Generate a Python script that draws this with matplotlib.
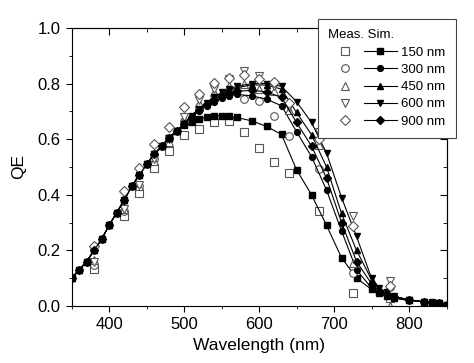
import matplotlib
matplotlib.use('Agg')
import matplotlib.pyplot as plt
from matplotlib.legend_handler import HandlerTuple
from matplotlib.ticker import MultipleLocator

plt.rcParams['font.family'] = ['Liberation Sans', 'DejaVu Sans']

# simulated QE (lines + filled markers)
wl_sim = [350, 360, 370, 380, 390, 400, 410, 420, 430, 440, 450, 460, 470, 480, 490,
          500, 510, 520, 530, 540, 550, 560, 570, 590, 610, 630, 650, 670, 690, 710,
          730, 750, 760, 770, 780, 800, 820, 830, 840, 850]
rise = [0.100, 0.130, 0.160, 0.200, 0.240, 0.290, 0.335, 0.380, 0.430, 0.470,
        0.510, 0.545, 0.575, 0.605, 0.630]
sim_150 = rise + [0.650, 0.662, 0.672, 0.680, 0.684, 0.684, 0.682, 0.678, 0.666, 0.646,
                  0.617, 0.490, 0.400, 0.290, 0.174, 0.100, 0.060, 0.045, 0.035, 0.028,
                  0.020, 0.015, 0.012, 0.010, 0.005]
sim_300 = rise + [0.655, 0.680, 0.700, 0.720, 0.735, 0.748, 0.756, 0.761, 0.756, 0.744,
                  0.720, 0.627, 0.537, 0.417, 0.270, 0.130, 0.065, 0.050, 0.040, 0.030,
                  0.020, 0.015, 0.012, 0.010, 0.005]
sim_450 = rise + [0.655, 0.685, 0.710, 0.730, 0.750, 0.765, 0.775, 0.785, 0.795, 0.795,
                  0.780, 0.696, 0.616, 0.500, 0.333, 0.200, 0.095, 0.060, 0.045, 0.035,
                  0.022, 0.016, 0.013, 0.010, 0.005]
sim_600 = rise + [0.655, 0.685, 0.710, 0.730, 0.752, 0.768, 0.780, 0.790, 0.800, 0.800,
                  0.790, 0.735, 0.660, 0.550, 0.390, 0.250, 0.100, 0.065, 0.050, 0.035,
                  0.022, 0.016, 0.013, 0.010, 0.005]
sim_900 = rise + [0.655, 0.680, 0.705, 0.725, 0.742, 0.755, 0.765, 0.772, 0.776, 0.770,
                  0.750, 0.660, 0.575, 0.460, 0.300, 0.160, 0.080, 0.055, 0.042, 0.032,
                  0.021, 0.015, 0.012, 0.010, 0.005]

# measured QE (open markers)
wl_meas = [380, 420, 440, 460, 480, 500, 520, 540, 560, 580, 600, 620, 640, 680, 725, 775]
meas_150 = [0.132, 0.324, 0.405, 0.497, 0.558, 0.615, 0.637, 0.661, 0.666, 0.627,
            0.567, 0.517, 0.477, 0.341, 0.048, 0.030]
meas_300 = [0.148, 0.340, 0.430, 0.530, 0.600, 0.665, 0.715, 0.745, 0.765, 0.744,
            0.739, 0.684, 0.612, 0.492, 0.120, 0.070]
meas_450 = [0.165, 0.350, 0.430, 0.520, 0.590, 0.670, 0.730, 0.770, 0.790, 0.800,
            0.780, 0.775, 0.705, 0.580, 0.154, 0.000]
meas_600 = [0.160, 0.350, 0.435, 0.530, 0.600, 0.680, 0.740, 0.780, 0.815, 0.845,
            0.828, 0.790, 0.715, 0.625, 0.324, 0.090]
meas_900 = [0.216, 0.412, 0.496, 0.582, 0.642, 0.715, 0.763, 0.802, 0.820, 0.830,
            0.815, 0.805, 0.730, 0.600, 0.286, 0.072]

labels = ['150 nm', '300 nm', '450 nm', '600 nm', '900 nm']
markers = ['s', 'o', '^', 'v', 'D']
sims = [sim_150, sim_300, sim_450, sim_600, sim_900]
meas = [meas_150, meas_300, meas_450, meas_600, meas_900]

fig = plt.figure(figsize=(4.74, 3.63), dpi=100)
ax = fig.add_axes([0.151, 0.157, 0.791, 0.766])

handles = []
for lab, mk, s, m in zip(labels, markers, sims, meas):
    ms = 3.6 if mk == 'D' else 4.2
    hm, = ax.plot(wl_meas, m, linestyle='none', marker=mk, markersize=5.5,
                  markerfacecolor='white', markeredgecolor='#555555', markeredgewidth=0.8)
    hs, = ax.plot(wl_sim, s, color='black', linewidth=0.8, marker=mk, markersize=ms,
                  markerfacecolor='black', markeredgecolor='black')
    handles.append((hm, hs))

ax.set_xlim(350, 850)
ax.set_ylim(0, 1.0)
for a in (ax.xaxis,):
    a.set_major_locator(MultipleLocator(100))
    a.set_minor_locator(MultipleLocator(50))
ax.yaxis.set_major_locator(MultipleLocator(0.2))
ax.yaxis.set_minor_locator(MultipleLocator(0.1))
ax.tick_params(which='both', direction='out', labelsize=12, pad=4)
ax.tick_params(which='major', length=4)
ax.tick_params(which='minor', length=2.5)

# mirrored axes with inward ticks, no labels
top = ax.secondary_xaxis('top')
top.xaxis.set_major_locator(MultipleLocator(100))
top.xaxis.set_minor_locator(MultipleLocator(50))
top.tick_params(which='both', direction='in', labeltop=False)
top.tick_params(which='major', length=5)
top.tick_params(which='minor', length=3)
right = ax.secondary_yaxis('right')
right.yaxis.set_major_locator(MultipleLocator(0.2))
right.yaxis.set_minor_locator(MultipleLocator(0.1))
right.tick_params(which='both', direction='in', labelright=False)
right.tick_params(which='major', length=5)
right.tick_params(which='minor', length=3)

ax.set_xlabel('Wavelength (nm)', fontsize=12.5, labelpad=4)
ax.set_ylabel('QE', fontsize=12.5, labelpad=8)

leg = fig.legend(handles, labels, title='Meas. Sim.', loc='upper right',
                 bbox_to_anchor=(0.961, 0.948), borderaxespad=0, fontsize=9.5,
                 title_fontsize=9.5, alignment='left', frameon=True, fancybox=False,
                 edgecolor='#444444', framealpha=1, handlelength=5.2, handletextpad=0.3,
                 borderpad=0.8, labelspacing=0.38, numpoints=1,
                 handler_map={tuple: HandlerTuple(ndivide=None, pad=0.2)})
leg.get_frame().set_linewidth(0.8)
leg.set_zorder(10)

fig.savefig('out.png', dpi=100)
